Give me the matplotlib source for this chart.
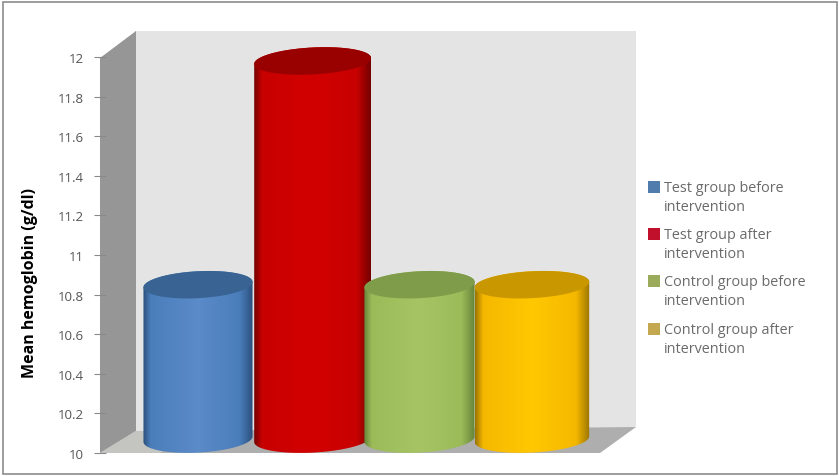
import numpy as np
import matplotlib
matplotlib.use("Agg")
import matplotlib.pyplot as plt
from matplotlib.colors import LinearSegmentedColormap
from matplotlib.patches import Polygon, Rectangle
from matplotlib.path import Path
from matplotlib.transforms import Affine2D

# Mean hemoglobin per group
groups = ["Test group before\nintervention", "Test group after\nintervention",
          "Control group before\nintervention", "Control group after\nintervention"]
hemoglobin = [10.8, 11.93, 10.8, 10.8]

y_ticks = [10, 10.2, 10.4, 10.6, 10.8, 11, 11.2, 11.4, 11.6, 11.8, 12]
y_tick_labels = ["10", "10.2", "10.4", "10.6", "10.8", "11", "11.2", "11.4", "11.6", "11.8", "12"]

# Column layout and colours (edge, body, highlight, top)
column_pos = [0, 1.03, 1.99, 3.0]
column_width = [0.98, 1.05, 0.99, 1.03]
column_colors = [
    ("#2c4f7c", "#4a7ebb", "#5b8bc8", "#386392"),
    ("#740000", "#c80000", "#d20000", "#990000"),
    ("#66843a", "#9bbb59", "#a6c463", "#7f9c4a"),
    ("#9a7400", "#f5b800", "#ffc800", "#c99700"),
]
swatch_colors = ["#4f7cac", "#c0102c", "#9bab5c", "#c4a850"]

W, H = 839, 477
plt.rcParams["font.family"] = "Open Sans"
fig = plt.figure(figsize=(W / 100, H / 100), dpi=100)

# y = 10 at pixel row 454, y = 12 at pixel row 58
ax = fig.add_axes([100 / W, 1 - 454 / H, 540 / W, 396 / H])
ax.patch.set_visible(False)

# figure-pixel transform (origin top left) for the chart box
px = Affine2D().scale(1 / W, -1 / H).translate(0, 1) + fig.transFigure


def gradient_fill(xs, ys, cmap, zorder):
    """Fill the polygon xs, ys (data coords) with a horizontal gradient"""
    grad = np.linspace(0, 1, 256).reshape(1, -1)
    im = ax.imshow(grad, cmap=cmap, aspect="auto", zorder=zorder,
                   extent=(min(xs), max(xs), min(ys), max(ys)), origin="lower")
    im.set_clip_box(fig.bbox)
    im.set_clip_path(Path(np.column_stack([xs, ys])), transform=ax.transData)


# Chart frame, walls and floor sit behind the axes
fig.add_artist(Rectangle((3, 3), 834, 472, transform=px, fc="white", ec="#8c8c8c", lw=1.2, zorder=-5))
fig.add_artist(Polygon([(135, 32), (636, 32), (636, 428), (135, 432)], transform=px,
                       fc="#e4e4e4", ec="none", zorder=-4))
fig.add_artist(Polygon([(100, 59), (136, 32), (136, 432), (100, 454)], transform=px,
                       fc="#969696", ec="none", zorder=-3))
fig.add_artist(Polygon([(100, 454), (136, 432), (636, 428), (600, 454)], transform=px,
                       fc="#aeaeae", ec="none", zorder=-3))
fig.add_artist(Polygon([(100, 454), (136, 432), (200, 432), (160, 454)], transform=px,
                       fc="#c4c4c0", ec="none", zorder=-2))

# Cylinders stand back from the front of the floor, and the camera tilt
# leans their ellipses up to the right
depth = 0.05
base_depth = 0.07
ry = 0.068
tilt = 0.028
theta = np.linspace(0, np.pi, 80)

for i in range(len(hemoglobin)):
    cx = column_pos[i]
    rx = column_width[i] * 0.5
    top = hemoglobin[i] + depth
    base = 10 + base_depth
    edge, body, light, cap = column_colors[i]
    cmap = LinearSegmentedColormap.from_list(
        "col", [(0, edge), (0.07, body), (0.5, light), (0.88, body), (1, edge)])

    # body outline: upper half of the top ellipse, lower half of the base ellipse
    top_x = cx - rx * np.cos(theta)
    base_x = cx + rx * np.cos(theta)
    xs = np.concatenate([top_x, base_x])
    ys = np.concatenate([top + ry * np.sin(theta) + tilt * (top_x - cx),
                         base - ry * np.sin(theta) + tilt * (base_x - cx)])
    gradient_fill(xs, ys, cmap, zorder=3 + i)

    t = np.linspace(0, 2 * np.pi, 160)
    cap_x = rx * np.cos(t)
    ax.fill(cx + cap_x, top + ry * np.sin(t) + tilt * cap_x, color=cap, lw=0,
            zorder=3 + i, clip_on=False)

ax.set_xlim(-98 / 111.3, 442 / 111.3)
ax.set_ylim(10, 12)
ax.set_xticks([])
ax.set_yticks(y_ticks)
ax.set_yticklabels(y_tick_labels, fontsize=9.5, color="#555555")
ax.tick_params(axis="y", direction="inout", length=9, width=0.8, color="#8a8a8a", pad=7)
for side in ax.spines:
    ax.spines[side].set_visible(False)
ax.set_ylabel("Mean hemoglobin (g/dl)", fontsize=11.5, fontweight="bold", color="black",
              y=0.433, labelpad=14)

# Legend entries with the swatch beside the first line of text
legend_rows = [188, 235, 282, 330]
for i in range(len(groups)):
    fig.add_artist(Rectangle((648, legend_rows[i] - 6), 12, 12, transform=px,
                             fc=swatch_colors[i], ec="none"))
    fig.text(664 / W, 1 - (legend_rows[i] - 7) / H, groups[i], fontsize=10.4, color="#6a6a6a",
             va="top", ha="left", linespacing=1.38)

fig.savefig("out.png", dpi=100)
